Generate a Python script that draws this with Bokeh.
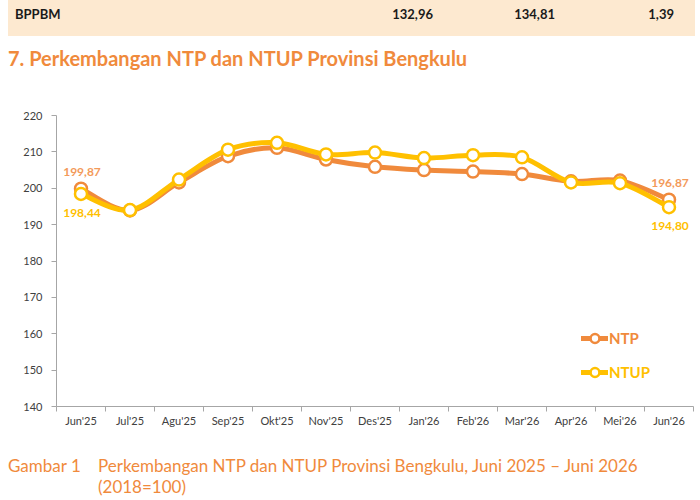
from bokeh.plotting import figure
from bokeh.layouts import column
from bokeh.models import (Range1d, FixedTicker, Legend, LegendItem,
                          ColumnDataSource, Div)
from bokeh.core.properties import value
from bokeh.embed import file_html
from bokeh.resources import INLINE

# ---- data -------------------------------------------------------------
table_row = "BPPBM"
table_values = ["132,96", "134,81", "1,39"]

months = ["Jun'25", "Jul'25", "Agu'25", "Sep'25", "Okt'25", "Nov'25", "Des'25",
          "Jan'26", "Feb'26", "Mar'26", "Apr'26", "Mei'26", "Jun'26"]
ntp = [199.87, 193.9, 201.6, 208.8, 211.1, 207.9, 205.9,
       205.0, 204.6, 203.9, 201.9, 202.1, 196.87]
ntup = [198.44, 194.0, 202.4, 210.6, 212.5, 209.3, 209.8,
        208.3, 209.1, 208.5, 201.6, 201.4, 194.80]

y_ticks = [140, 150, 160, 170, 180, 190, 200, 210, 220]

title_text = "7. Perkembangan NTP dan NTUP Provinsi Bengkulu"
caption_label = "Gambar 1"
caption_lines = ["Perkembangan NTP dan NTUP Provinsi Bengkulu, Juni 2025 \u2013 Juni 2026",
                 "(2018=100)"]

ORANGE = "#F08A3C"
YELLOW = "#FFC000"
FONT = "Lato"
W = 700


def abs_text(text, left=None, right=None, top=0, size=13, line=18,
             color="#1a1a1a", bold=False):
    side = f"left:{left}px;" if left is not None else f"right:{right}px;"
    weight = "bold" if bold else "normal"
    return (f'<div style="position:absolute;{side}top:{top}px;font-size:{size}px;'
            f'line-height:{line}px;font-weight:{weight};color:{color};'
            f'white-space:nowrap;">{text}</div>')


# ---- header: table row and section title -------------------------------
header_html = (
    f'<div style="position:relative;width:{W}px;height:100px;margin:0;padding:0;'
    f'font-family:{FONT},sans-serif;">'
    '<div style="position:absolute;left:8px;top:0px;width:687px;height:36px;'
    'background:#FDE9D0;"></div>'
    + abs_text(table_row, left=15, top=5, bold=True)
    + "".join(abs_text(t, right=W - cx, top=5, bold=True)
              for cx, t in zip((433, 555, 674), table_values))
    + abs_text(title_text, left=8, top=46, size=20, line=24, color=ORANGE, bold=True)
    + '</div>'
)
header = Div(text=header_html, width=W, height=100, margin=0)

# ---- chart -------------------------------------------------------------
n = len(months)
xs = list(range(n))
p = figure(width=W, height=340, output_backend="svg", toolbar_location=None,
           x_range=Range1d(-0.5, n - 0.5), y_range=Range1d(140, 220),
           min_border_left=56, min_border_right=7, min_border_top=15,
           min_border_bottom=34, margin=0)
p.outline_line_color = None
p.grid.visible = False
p.border_fill_color = "white"

p.xaxis.ticker = FixedTicker(ticks=xs, minor_ticks=[i - 0.5 for i in range(n + 1)])
p.xaxis.major_label_overrides = {i: m for i, m in enumerate(months)}
p.xaxis.major_tick_line_color = None
p.xaxis.minor_tick_out = 5
p.xaxis.minor_tick_in = 0
p.xaxis.minor_tick_line_color = "#A6A6A6"
p.xaxis.major_label_standoff = 1
p.yaxis.ticker = FixedTicker(ticks=y_ticks)
p.yaxis.major_tick_out = 5
p.yaxis.major_tick_in = 0
p.yaxis.minor_tick_line_color = None
p.yaxis.major_tick_line_color = "#A6A6A6"
p.yaxis.major_label_standoff = 9
for ax in (p.xaxis, p.yaxis):
    ax.axis_line_color = "#A6A6A6"
    ax.major_label_text_font = FONT
    ax.major_label_text_font_size = "11px"
    ax.major_label_text_color = "#404040"


def smooth_segments(vals):
    """Cubic Bezier pieces through the points (Catmull-Rom tangents)."""
    pts = list(zip(range(len(vals)), vals))
    seg = dict(x0=[], y0=[], x1=[], y1=[], cx0=[], cy0=[], cx1=[], cy1=[])
    for i in range(len(pts) - 1):
        p0 = pts[max(i - 1, 0)]
        p1 = pts[i]
        p2 = pts[i + 1]
        p3 = pts[min(i + 2, len(pts) - 1)]
        seg["x0"].append(p1[0]); seg["y0"].append(p1[1])
        seg["x1"].append(p2[0]); seg["y1"].append(p2[1])
        seg["cx0"].append(p1[0] + (p2[0] - p0[0]) / 6)
        seg["cy0"].append(p1[1] + (p2[1] - p0[1]) / 6)
        seg["cx1"].append(p2[0] - (p3[0] - p1[0]) / 6)
        seg["cy1"].append(p2[1] - (p3[1] - p1[1]) / 6)
    return ColumnDataSource(seg)


legend_items = []
for name, vals, color in (("NTP", ntp, ORANGE), ("NTUP", ntup, YELLOW)):
    br = p.bezier(x0="x0", y0="y0", x1="x1", y1="y1", cx0="cx0", cy0="cy0",
                  cx1="cx1", cy1="cy1", source=smooth_segments(vals),
                  line_color=color, line_width=5, line_cap="round")
    sr = p.scatter(x=xs, y=vals, size=12, marker="circle", fill_color="white",
                   line_color=color, line_width=2.5)
    legend_items.append((name, color, [br, sr]))


# end-point value labels
def fmt(v):
    return f"{v:.2f}".replace(".", ",")


ends = [0, n - 1]
for vals, color, dy in ((ntp, "#F39A5A", 17), (ntup, YELLOW, -19)):
    src = ColumnDataSource(dict(x=ends, y=[vals[i] for i in ends],
                                t=[fmt(vals[i]) for i in ends]))
    p.text(x="x", y="y", text="t", source=src, y_offset=-dy, x_offset=1,
           text_font=value(FONT), text_font_style="bold", text_font_size="12px",
           text_color=color, text_align="center", text_baseline="middle")

# one legend per series so each label takes its series colour
for (name, color, rends), ypos in zip(legend_items, (57, 23)):
    lg = Legend(items=[LegendItem(label=name, renderers=rends)],
                location=(525, ypos), orientation="vertical",
                glyph_width=27, glyph_height=22, padding=0, margin=0,
                label_standoff=1, border_line_color=None,
                background_fill_alpha=0, label_text_color=color,
                label_text_font=FONT, label_text_font_style="bold",
                label_text_font_size="15px", label_height=22)
    p.add_layout(lg, "center")

# ---- caption -----------------------------------------------------------
caption_html = (
    f'<div style="position:relative;width:{W}px;height:60px;margin:0;padding:0;'
    f'font-family:{FONT},sans-serif;">'
    + abs_text(caption_label, left=8, top=16, size=17, line=20, color=ORANGE)
    + abs_text(caption_lines[0], left=98, top=16, size=17, line=20, color=ORANGE)
    + abs_text(caption_lines[1], left=98, top=37, size=17, line=20, color=ORANGE)
    + '</div>'
)
caption = Div(text=caption_html, width=W, height=60, margin=0)

layout = column(header, p, caption, spacing=0, margin=0)
open("out.html", "w").write(file_html(layout, INLINE))
